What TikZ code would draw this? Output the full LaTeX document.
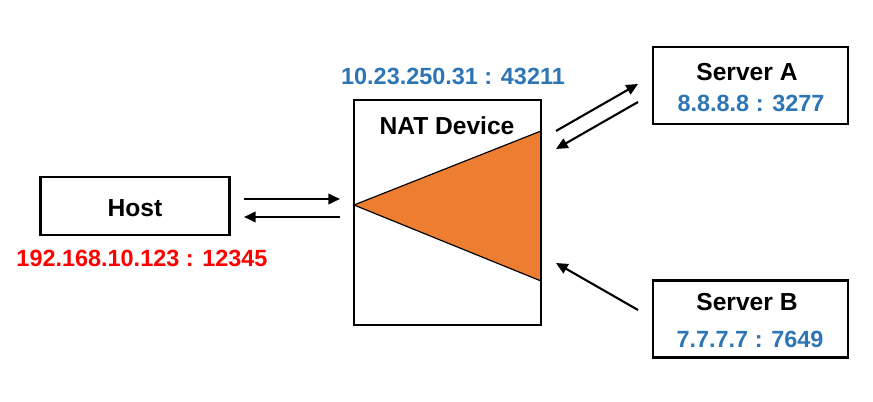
\documentclass[tikz,border=0pt]{standalone}
\usepackage{fontspec}
\setmainfont{Liberation Sans}
\usetikzlibrary{arrows.meta}
\definecolor{natorange}{RGB}{237,125,49}
\definecolor{ipblue}{RGB}{46,117,182}
\definecolor{ipred}{RGB}{255,0,0}
\begin{document}
\begin{tikzpicture}
                                [
                                    x=0.03cm, y=-0.03cm,
                                    box/.style = {draw, shape=rectangle, line width=2pt, inner sep=0pt},
                                    hostbox/.style = {box, minimum width=5.67cm, minimum height=1.74cm},
                                    serverbox/.style = {box, minimum width=5.85cm, minimum height=2.31cm},
                                    title/.style = {font=\fontsize{21}{24}\selectfont\bfseries, inner sep=0pt},
                                    ip/.style = {font=\fontsize{20}{24}\selectfont\bfseries, inner sep=0pt},
                                    link/.style = {line width=1.8pt, -{Triangle[length=10pt,width=9pt]}},
                                ]
                                \useasboundingbox (0,0) rectangle (873,402);

                                \node[hostbox] (host) at (135,206)     {};
                                \node[title] (hostlabel) at (135,208)     {Host};
                                \node[ip, text=ipred] (hostip) at (142,258)     {192.168.10.123 : 12345};

                                \fill[natorange] (354,205) -- (541,131) -- (541,281) -- cycle;
                                \draw[line width=1pt] (541,131) -- (354,205) -- (541,281);
                                \node[box, minimum width=5.61cm, minimum height=6.75cm] (nat) at (447.5,212.5)     {};
                                \node[title] (natlabel) at (447,126)     {NAT Device};
                                \node[ip, text=ipblue] (natip) at (453,76)     {10.23.250.31 : 43211};

                                \node[serverbox] (srva) at (750.5,85.5)     {};
                                \node[title] (srvalabel) at (747,72)     {Server A};
                                \node[ip, text=ipblue] (srvaip) at (751,103)     {8.8.8.8 : 3277};

                                \node[serverbox] (srvb) at (750.5,319)     {};
                                \node[title] (srvblabel) at (747,302)     {Server B};
                                \node[ip, text=ipblue] (srvbip) at (750,339)     {7.7.7.7 : 7649};

                                % arrow ends
                                \coordinate (h1) at (244,199);
                                \coordinate (n1) at (340,199);
                                \coordinate (h2) at (244,217);
                                \coordinate (n2) at (340,217);
                                \coordinate (n3) at (556,131);
                                \coordinate (a3) at (638,84);
                                \coordinate (a4) at (638,102);
                                \coordinate (n4) at (556,149);
                                \coordinate (b5) at (638,310);
                                \coordinate (n5) at (556,263);

                                \draw [link] (h1) -- (n1);
                                \draw [link] (n2) -- (h2);
                                \draw [link] (n3) -- (a3);
                                \draw [link] (a4) -- (n4);
                                \draw [link] (b5) -- (n5);

                            \end{tikzpicture}
\end{document}
